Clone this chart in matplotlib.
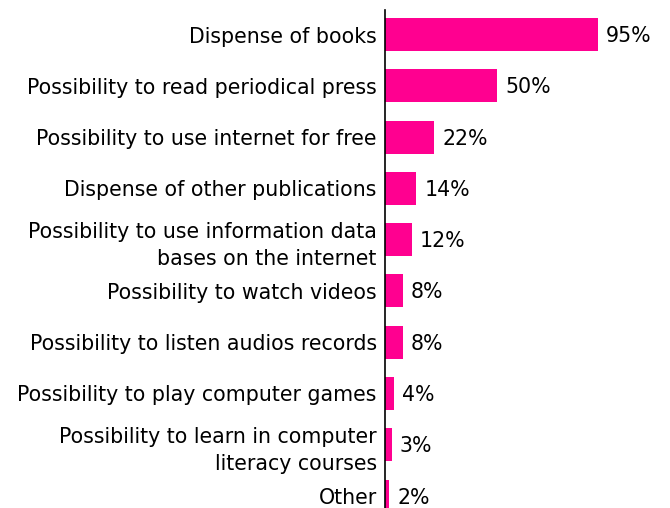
import matplotlib
matplotlib.use("Agg")
import matplotlib.pyplot as plt

categories = [
    "Dispense of books",
    "Possibility to read periodical press",
    "Possibility to use internet for free",
    "Dispense of other publications",
    "Possibility to use information data\nbases on the internet",
    "Possibility to watch videos",
    "Possibility to listen audios records",
    "Possibility to play computer games",
    "Possibility to learn in computer\nliteracy courses",
    "Other",
]
values = [95, 50, 22, 14, 12, 8, 8, 4, 3, 2]

bar_color = "#FF0090"
fs = 14.8

fig = plt.figure(figsize=(6.7, 5.08), dpi=100)
ax = fig.add_axes([385 / 670, 0, 285 / 670, 498 / 508])

pos = list(range(len(values)))
ax.barh(pos, values, height=0.643, color=bar_color)
ax.set_xlim(0, 127.1)
ax.set_ylim(9.234, -0.478)

for p, v in zip(pos, values):
    ax.text(v + 3.6, p + 0.03, f"{v}%", va="center", ha="left", fontsize=fs)

ax.set_yticks(pos)
ax.set_yticklabels(categories, fontsize=fs, ha="right", linespacing=1.45)
ax.tick_params(axis="y", length=0, pad=6)
ax.set_xticks([])
for s in ["top", "right", "bottom"]:
    ax.spines[s].set_visible(False)
ax.spines["left"].set_linewidth(1.2)

fig.savefig("out.png", dpi=100)
